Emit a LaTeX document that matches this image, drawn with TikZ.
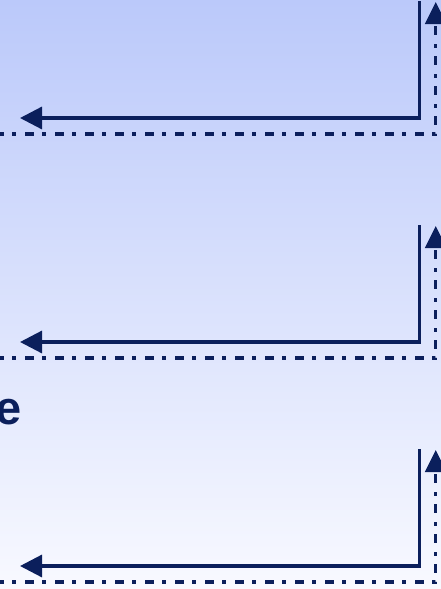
\documentclass[tikz,border=0pt]{standalone}
\usepackage{fontspec}
\setmainfont{Liberation Sans}
\usepackage{xcolor}
\usetikzlibrary{arrows.meta}

\definecolor{navy}{RGB}{11,31,92}
\definecolor{bgtop}{RGB}{187,201,250}
\definecolor{bgbottom}{RGB}{248,249,255}

\tikzset{
	mainline/.style={navy,line width=3.2pt,-{Triangle[length=22pt,width=22pt]}},
	backline/.style={navy,line width=3.2pt,dash pattern=on 9pt off 8pt on 4pt off 9pt,-{Triangle[length=22pt,width=21pt]}}
}

\begin{document}
\begin{tikzpicture}[x=1pt,y=-1pt]
	\useasboundingbox (0,0) rectangle (441,589);
	\shade[top color=bgtop,bottom color=bgbottom] (0,0) rectangle (441,589);

	% first pair
	\coordinate (in1) at (419.3,1);
	\coordinate (out1) at (20,118);
	\coordinate (back1) at (-5,134);
	\coordinate (up1) at (435.7,2);
	\draw[mainline] (in1) |- (out1);
	\draw[backline] (back1) -| (up1);

	% second pair
	\coordinate (in2) at (419.3,225);
	\coordinate (out2) at (20,342);
	\coordinate (back2) at (-5,358);
	\coordinate (up2) at (435.7,226);
	\draw[mainline] (in2) |- (out2);
	\draw[backline] (back2) -| (up2);

	% third pair
	\coordinate (in3) at (419.3,449);
	\coordinate (out3) at (20,566);
	\coordinate (back3) at (-5,582);
	\coordinate (up3) at (435.7,450);
	\draw[mainline] (in3) |- (out3);
	\draw[backline] (back3) -| (up3);

	\node[anchor=base east,inner sep=0pt,navy,font=\bfseries\fontsize{47}{50}\selectfont] (word) at (21.5,424.5) {e};
\end{tikzpicture}
\end{document}
